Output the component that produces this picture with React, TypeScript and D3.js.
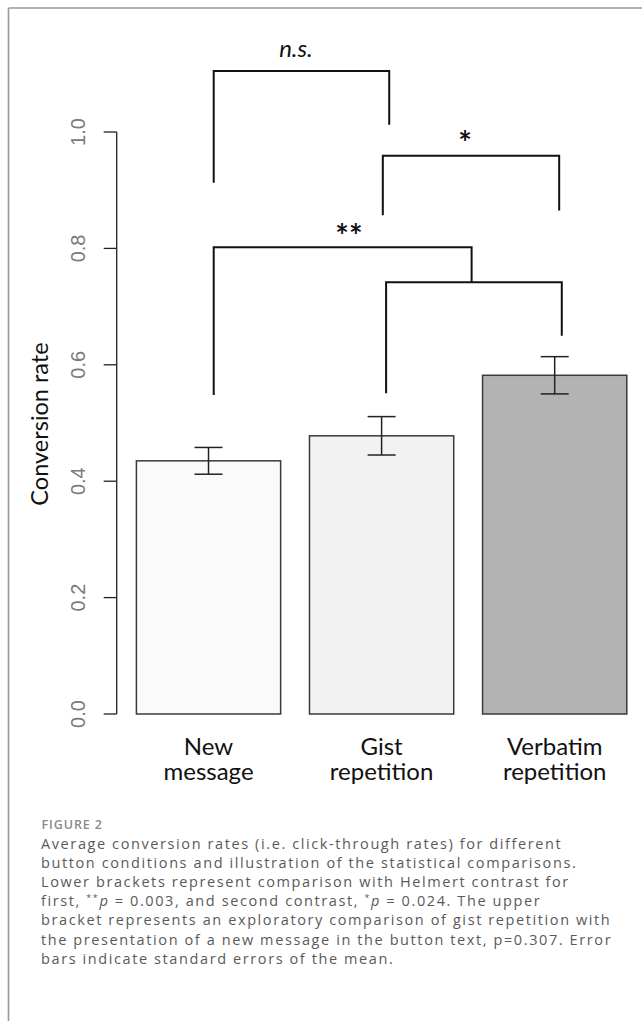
import React from "react";
import * as d3 from "d3";

const categories = ["New message", "Gist repetition", "Verbatim repetition"];
const labelLines = [["New", "message"], ["Gist", "repetition"], ["Verbatim", "repetition"]];
const means = [0.435, 0.478, 0.582];
const stdErr = [0.023, 0.033, 0.032];
const fills = ["#fafafa", "#f2f2f2", "#b3b3b3"];
const yTicks = [0, 0.2, 0.4, 0.6, 0.8, 1.0];

// comparison brackets (x in category-index units, y in data units)
const bracketLeftX = [0.03, 1.007, 0.03, 1.026];
const bracketRightX = [1.044, 2.026, 1.52, 2.041];
const bracketTop = [1.105, 0.959, 0.802, 0.742];
const bracketLeftEnd = [0.913, 0.857, 0.548, 0.551];
const bracketRightEnd = [1.0125, 0.865, 0.742, 0.65];
const sigLabels = ["n.s.", "*", "**"];
const sigLabelX = [0.505, 1.482, 0.811];
const sigLabelY = [1.129, 0.9605, 0.8];

const captionLines = [
  "Average conversion rates (i.e. click-through rates) for different",
  "button conditions and illustration of the statistical comparisons.",
  "Lower brackets represent comparison with Helmert contrast for",
  "__LINE4__",
  "bracket represents an exploratory comparison of gist repetition with",
  "the presentation of a new message in the button text, p=0.307. Error",
  "bars indicate standard errors of the mean.",
];

export default function App() {
  const W = 642, H = 1021;
  const x = d3.scaleBand<string>().domain(categories).range([136.4, 626.8]).paddingInner(1 / 6).paddingOuter(0);
  const y = d3.scaleLinear().domain([0, 1]).range([714, 132]);
  const cx = (i: number) => (x(categories[i]) as number) + x.bandwidth() / 2;
  const xi = d3.scaleLinear().domain([0, 2]).range([cx(0), cx(2)]);
  const axisX = 116.7;
  const capW = 14;
  const labelFont = "Lato, 'Open Sans', sans-serif";
  const capFont = "'Open Sans', sans-serif";

  return (
    <div style={{ position: "absolute", left: 0, top: 0, width: W, height: H, background: "#fff" }}>
      <svg width={W} height={H} style={{ display: "block" }}>
        {/* frame */}
        <line x1={8.5} x2={W} y1={8} y2={8} stroke="#999" strokeWidth={1.6} />
        <line x1={8.5} x2={8.5} y1={8} y2={H} stroke="#999" strokeWidth={1.6} />

        {/* y axis */}
        <line x1={axisX} x2={axisX} y1={y(0)} y2={y(1)} stroke="#222" strokeWidth={1.3} />
        {yTicks.map((t) => (
          <g key={t}>
            <line x1={axisX - 13} x2={axisX} y1={y(t)} y2={y(t)} stroke="#222" strokeWidth={1.3} />
            <text
              transform={`translate(84.5,${y(t)}) rotate(-90)`}
              textAnchor="middle"
              fontFamily="'Liberation Sans', Arial, sans-serif"
              fontSize={20}
              fill="#7a7a7a"
            >
              {t.toFixed(1)}
            </text>
          </g>
        ))}
        <text
          transform={`translate(48.3,${424}) rotate(-90)`}
          textAnchor="middle"
          fontFamily={labelFont}
          fontSize={23.5}
          fill="#111"
        >
          Conversion rate
        </text>

        {/* bars */}
        {categories.map((c, i) => (
          <rect
            key={c}
            x={x(c)}
            y={y(means[i])}
            width={x.bandwidth()}
            height={y(0) - y(means[i])}
            fill={fills[i]}
            stroke="#3a3a3a"
            strokeWidth={1.5}
          />
        ))}

        {/* error bars */}
        {categories.map((c, i) => {
          const hi = y(means[i] + stdErr[i]);
          const lo = y(means[i] - stdErr[i]);
          return (
            <g key={c} stroke="#222" strokeWidth={1.5}>
              <line x1={cx(i)} x2={cx(i)} y1={hi} y2={lo} />
              <line x1={cx(i) - capW} x2={cx(i) + capW} y1={hi} y2={hi} />
              <line x1={cx(i) - capW} x2={cx(i) + capW} y1={lo} y2={lo} />
            </g>
          );
        })}

        {/* category labels */}
        {categories.map((c, i) => (
          <text key={c} x={cx(i)} textAnchor="middle" fontFamily={labelFont} fontSize={24} fill="#111">
            <tspan x={cx(i)} y={755}>{labelLines[i][0]}</tspan>
            <tspan x={cx(i)} y={780}>{labelLines[i][1]}</tspan>
          </text>
        ))}

        {/* brackets */}
        {bracketTop.map((t, i) => (
          <path
            key={i}
            d={`M${xi(bracketLeftX[i])},${y(bracketLeftEnd[i])}V${y(t)}H${xi(bracketRightX[i])}V${y(bracketRightEnd[i])}`}
            fill="none"
            stroke="#111"
            strokeWidth={2}
          />
        ))}
        {sigLabels.map((s, i) => (
          <text
            key={i}
            x={xi(sigLabelX[i])}
            y={y(sigLabelY[i])}
            textAnchor="middle"
            fontFamily={labelFont}
            fontSize={i === 0 ? 24 : 32}
            fontStyle={i === 0 ? "italic" : "normal"}
            fontWeight={i === 0 ? 400 : 700}
            fill="#111"
          >
            {s}
          </text>
        ))}

        {/* caption */}
        <text x={41.5} y={829} fontFamily={capFont} fontSize={12.5} fontWeight={600} fill="#8a8a8a" letterSpacing={0.9}>
          FIGURE 2
        </text>
        {captionLines.map((l, i) => (
          <text key={i} x={41} y={848.5 + i * 19.2} fontFamily={capFont} fontSize={14.5} letterSpacing={1.6} fill="#5a5a5a">
            {l === "__LINE4__" ? (
              <>
                {"first, "}
                <tspan fontSize={9} dy={-5}>**</tspan>
                <tspan fontStyle="italic" dy={5}>p</tspan>
                {" = 0.003, and second contrast, "}
                <tspan fontSize={9} dy={-5}>*</tspan>
                <tspan fontStyle="italic" dy={5}>p</tspan>
                {" = 0.024. The upper"}
              </>
            ) : (
              l
            )}
          </text>
        ))}
      </svg>
    </div>
  );
}
